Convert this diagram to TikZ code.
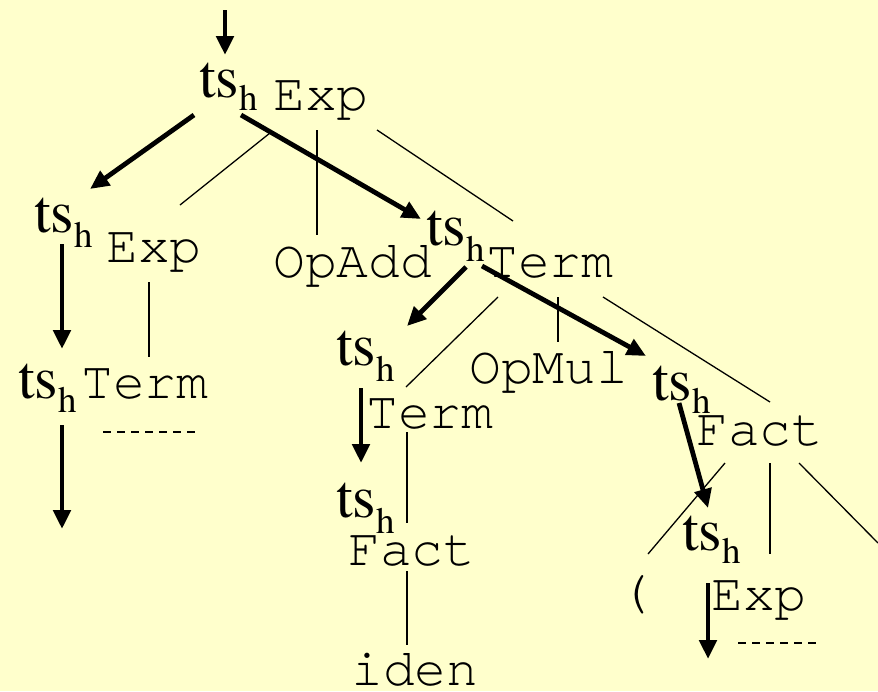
\documentclass[tikz,border=0pt]{standalone}
\usepackage{fontspec}
\usetikzlibrary{arrows.meta}
\newfontfamily\timesfont{texgyretermes-regular.otf}
\newfontfamily\cursorfont{texgyrecursor-regular.otf}
\newcommand\tsfont{\timesfont\fontsize{60}{60}\selectfont}
\newcommand\subfont{\timesfont\fontsize{37}{37}\selectfont}
\newcommand\ntfont{\cursorfont\fontsize{53}{53}\selectfont}
% "ts" with a lowered subscript h; the argument is the drop in pt
\newcommand\tsh[1]{ts\raisebox{-#1pt}{\subfont h}}
\definecolor{paper}{RGB}{255,255,204}
\begin{document}
\begin{tikzpicture}[x=1pt,y=-1pt,
  attr/.style={inner sep=0pt,anchor=base west,font=\tsfont},
  sym/.style={inner sep=0pt,anchor=base west,font=\ntfont},
  flow/.style={line width=4.8pt,-{Triangle[length=19pt,width=17pt]}},
  edge/.style={line width=1.3pt},
  elided/.style={line width=2.6pt,dash pattern=on 8pt off 6pt}]
\fill[paper] (0,0) rectangle (878,691);
\useasboundingbox (0,0) rectangle (878,691);

% ---- labels ----
\node[attr] (tsR)   at (199,97)  {\tsh{13}};
\node[sym]  (expR)  at (273,110) {Exp};
\node[attr] (tsA)   at (34,232)  {\tsh{15}};
\node[sym]  (expA)  at (106,262) {Exp};
\node[sym]  (opadd) at (273,277) {OpAdd};
\node[attr] (tsB)   at (426,245) {\tsh{16}};
\node[sym]  (termB) at (486,277) {Term};
\node[attr] (tsC)   at (18,398)  {\tsh{14}};
\node[sym]  (termC) at (81,398)  {Term};
\node[attr] (tsD)   at (336,365) {\tsh{16}};
\node[sym]  (termD) at (366,428) {Term};
\node[sym]  (opmul) at (469,383) {OpMul};
\node[attr] (tsE)   at (652,400) {\tsh{13}};
\node[sym]  (factE) at (696,445) {Fact};
\node[attr] (tsF)   at (336,517) {\tsh{16}};
\node[sym]  (factF) at (348,565) {Fact};
\node[sym]  (iden)  at (351,685) {iden};
\node[attr] (tsG)   at (682,550) {\tsh{13}};
\node[sym]  (lpar)  at (619,607) {(};
\node[sym]  (expG)  at (711,610) {Exp};

% ---- end points of the connectors ----
\coordinate (in0)  at (225,10);  \coordinate (out0) at (225,55);
\coordinate (in1)  at (194,115); \coordinate (out1) at (90,189);
\coordinate (in2)  at (241,115); \coordinate (out2) at (421,219);
\coordinate (in3)  at (62,244);  \coordinate (out3) at (62,349);
\coordinate (in4)  at (62,425);  \coordinate (out4) at (62,529);
\coordinate (in5)  at (466,267); \coordinate (out5) at (407,326);
\coordinate (in6)  at (482,266); \coordinate (out6) at (646,356);
\coordinate (in7)  at (361,388); \coordinate (out7) at (361,463);
\coordinate (in8)  at (679,403); \coordinate (out8) at (708,508);
\coordinate (in9)  at (708,583); \coordinate (out9) at (708,659);

\coordinate (e1a)  at (270,133); \coordinate (e1b)  at (180,205);
\coordinate (e2a)  at (317,130); \coordinate (e2b)  at (317,235);
\coordinate (e3a)  at (377,130); \coordinate (e3b)  at (513,221);
\coordinate (e4a)  at (149,282); \coordinate (e4b)  at (149,357);
\coordinate (e5a)  at (498,297); \coordinate (e5b)  at (406,387);
\coordinate (e6a)  at (558,297); \coordinate (e6b)  at (558,342);
\coordinate (e7a)  at (603,297); \coordinate (e7b)  at (770,402);
\coordinate (e8a)  at (407,432); \coordinate (e8b)  at (407,523);
\coordinate (e9a)  at (407,571); \coordinate (e9b)  at (407,645);
\coordinate (e10a) at (725,463); \coordinate (e10b) at (648,554);
\coordinate (e11a) at (770,463); \coordinate (e11b) at (770,554);
\coordinate (e12a) at (799,463); \coordinate (e12b) at (878,543);

\coordinate (d1a) at (103,432); \coordinate (d1b) at (195,432);
\coordinate (d2a) at (738,643); \coordinate (d2b) at (817,643);

% ---- tree edges ----
\foreach \k in {1,...,12} \draw[edge] (e\k a) -- (e\k b);

% ---- attribute flow ----
\foreach \k in {0,...,9} \draw[flow] (in\k) -- (out\k);

% ---- elided subtrees ----
\draw[elided] (d1a) -- (d1b);
\draw[elided] (d2a) -- (d2b);
\end{tikzpicture}
\end{document}
